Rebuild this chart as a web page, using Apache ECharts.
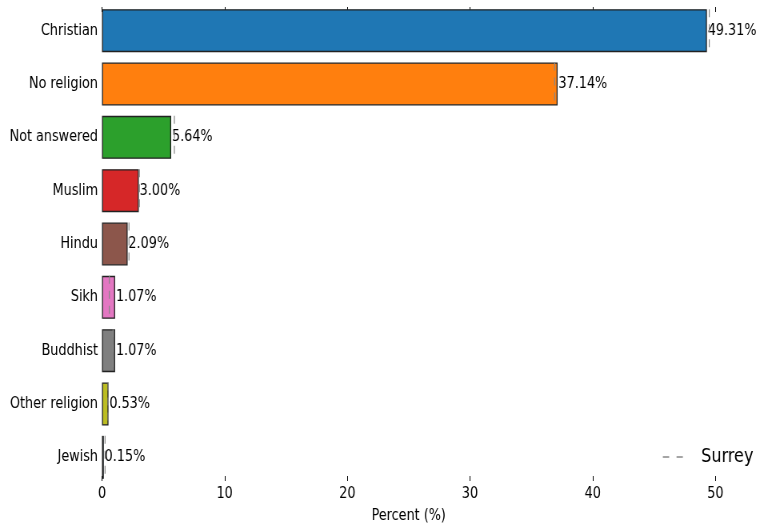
<!DOCTYPE html>
<html>
<head>
    <meta charset="utf-8">
    <title>Religion</title>
    <script type="text/javascript" src="https://cdn.jsdelivr.net/npm/echarts@6/dist/echarts.min.js"></script>
    <style>
        html, body { margin: 0; padding: 0; background: #fff; overflow: hidden; }
        /* the reference text is squeezed sideways, so the chart is drawn wider and squeezed back */
        #main { width: 967.5px; height: 532px; transform: scaleX(0.8); transform-origin: 0 0; }
    </style>
</head>
<body>
    <div id="main"></div>
    <script type="text/javascript">
        // religion categories, top to bottom
        var categories = ['Christian', 'No religion', 'Not answered', 'Muslim', 'Hindu', 'Sikh', 'Buddhist', 'Other religion', 'Jewish'];
        // percent for the area
        var values = [49.31, 37.14, 5.64, 3.00, 2.09, 1.07, 1.07, 0.53, 0.15];
        // Surrey reference percent (dashed marks)
        var surrey = [49.5, 36.9, 5.9, 3.05, 2.2, 0.6, 0.9, 0.5, 0.25];
        var colors = ['#1f77b4', '#ff7f0e', '#2ca02c', '#d62728', '#8c564b', '#e377c2', '#7f7f7f', '#bcbd22', '#17becf'];
        var xTicks = [0, 10, 20, 30, 40, 50];

        var font = "'DejaVu Sans', sans-serif";
        var S = 0.8; // horizontal squeeze
        var myChart = echarts.init(document.getElementById('main'));

        var barData = values.map(function (v, i) {
            return { value: v, itemStyle: { color: colors[i] } };
        });
        var surreyData = surrey.map(function (v, i) {
            return [v, i];
        });

        var tickStyle = { show: true, inside: true, length: 5, lineStyle: { color: '#000', width: 1 } };

        var option = {
            animation: false,
            backgroundColor: '#fff',
            textStyle: { fontFamily: font },
            grid: { left: 102 / S, right: 59 / S, top: 4, bottom: 48 },
            legend: {
                right: 17 / S,
                top: 442,
                itemWidth: 20 / S,
                itemHeight: 2,
                icon: 'path://M0,0 H6 V1 H0 Z M13,0 H19 V1 H13 Z',
                textStyle: { fontFamily: font, fontSize: 20, color: '#000', padding: [0, 0, 0, 18] },
                data: ['Surrey']
            },
            xAxis: [{
                type: 'value',
                min: 0,
                max: 50,
                interval: 10,
                position: 'bottom',
                offset: -3,
                name: 'Percent (%)',
                nameLocation: 'middle',
                nameGap: 27,
                nameTextStyle: { fontFamily: font, fontSize: 16, color: '#000' },
                axisLine: { show: false },
                axisTick: tickStyle,
                axisLabel: {
                    fontFamily: font, fontSize: 16, color: '#000', margin: 5,
                    formatter: function (v) { return xTicks.indexOf(v) >= 0 ? String(v) : ''; }
                },
                splitLine: { show: false }
            }, {
                type: 'value',
                min: 0,
                max: 50,
                interval: 10,
                position: 'top',
                offset: -3,
                axisLine: { show: false },
                axisTick: tickStyle,
                axisLabel: { show: false },
                splitLine: { show: false }
            }],
            yAxis: {
                type: 'category',
                inverse: true,
                data: categories,
                axisLine: { show: false },
                axisTick: { show: false },
                axisLabel: { fontFamily: font, fontSize: 16, color: '#000', margin: 5 }
            },
            series: [{
                type: 'bar',
                name: 'Area',
                data: barData,
                barWidth: '80.6%',
                itemStyle: { borderColor: '#222', borderWidth: 1.3 },
                label: {
                    show: true,
                    position: 'right',
                    distance: 1,
                    fontFamily: font,
                    fontSize: 16,
                    color: '#000',
                    formatter: function (p) { return p.value.toFixed(2) + '%'; }
                },
                z: 2
            }, {
                type: 'custom',
                name: 'Surrey',
                itemStyle: { color: '#888' },
                data: surreyData,
                encode: { x: 0, y: 1 },
                renderItem: function (params, api) {
                    var p = api.coord([api.value(0), api.value(1)]);
                    var h = api.size([0, 1])[1] * 0.806;
                    return {
                        type: 'line',
                        shape: { x1: p[0], y1: p[1] - h / 2, x2: p[0], y2: p[1] + h / 2 },
                        style: { stroke: '#888', lineWidth: 1.2, lineDash: [8, 7] }
                    };
                },
                z: 3
            }]
        };
        myChart.setOption(option);
    </script>
</body>
</html>
